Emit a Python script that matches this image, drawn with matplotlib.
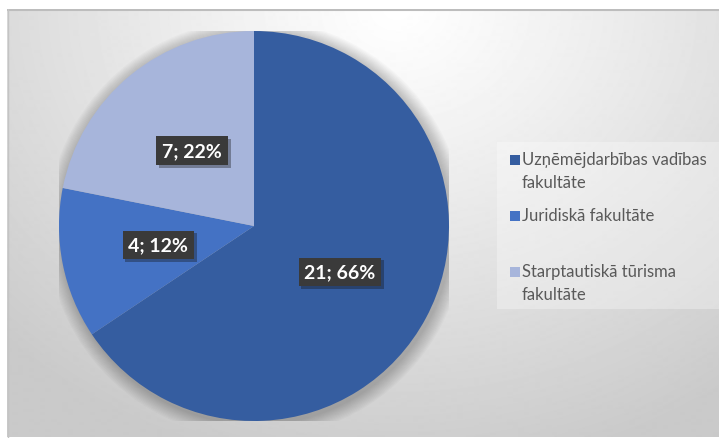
import numpy as np
import matplotlib.pyplot as plt
from matplotlib.patches import Rectangle, Circle
import matplotlib.patheffects as pe

plt.rcParams['font.family'] = ['Lato', 'DejaVu Sans']

# data
faculties = [['Uzņēmējdarbības vadības', 'fakultāte'], ['Juridiskā fakultāte'],
             ['Starptautiskā tūrisma', 'fakultāte']]
counts = [21, 4, 7]
percents = [66, 12, 22]
colors = ['#355DA0', '#4472C4', '#A7B5DB']

W, H = 719, 439
fig = plt.figure(figsize=(W / 100, H / 100), dpi=100)
fig.patch.set_facecolor('white')

# background panel with soft radial gradient
bg = fig.add_axes([7 / W, 0, (W - 7) / W, (H - 10) / H])
bg.set_axis_off()
yy, xx = np.mgrid[0:H - 10, 0:W - 7]
d = np.sqrt(((xx - 390) / 560.0) ** 2 + ((yy - 0) / 470.0) ** 2)
val = 1.0 - 0.21 * np.clip(d, 0, 1) ** 1.1
bg.imshow(val, cmap='gray', vmin=0, vmax=1, aspect='auto', interpolation='bilinear')
bg.set_xlim(0, W - 7)
bg.set_ylim(H - 10, 0)
bg.plot([0, W - 7], [0.5, 0.5], color='#bdbdbd', lw=1.5)
bg.plot([0.5, 0.5], [0, H - 10], color='#c4c4c4', lw=1.0)

# legend background box
bg.add_patch(Rectangle((497 - 7, 143 - 10), W - 497, 167, color='white', alpha=0.3, lw=0))

# pie axes
cx, cy, r = 254, 227, 195
ax = fig.add_axes([(cx - r) / W, (H - cy - r) / H, 2 * r / W, 2 * r / H])
ax.set_axis_off()

# soft shadow around the pie
for k in range(12):
    ax.add_patch(Circle((0.01, -0.015), 1.0 + 0.006 * (12 - k), color='black',
                        alpha=0.02, lw=0, zorder=0))

labels = [f'{c}; {p}%' for c, p in zip(counts, percents)]
wedges, texts = ax.pie(counts, colors=colors, startangle=90, counterclock=False,
                       radius=1.0, labels=labels, labeldistance=0.5,
                       wedgeprops=dict(linewidth=0),
                       textprops=dict(color='white', fontsize=14, fontweight='bold',
                                      ha='center', va='center'))
for w in wedges:
    w.set_zorder(2)
for t in texts:
    t.set_zorder(5)
    t.set_bbox(dict(boxstyle='square,pad=0.3', facecolor='#3A3A3A', edgecolor='none',
                    path_effects=[pe.SimplePatchShadow(offset=(2, -2), alpha=0.35), pe.Normal()]))
ax.set_xlim(-1, 1)
ax.set_ylim(-1, 1)

# legend
leg_y = [160, 216, 272]
for i, (lines, col) in enumerate(zip(faculties, colors)):
    y = leg_y[i]
    fig.patches.append(Rectangle((510 / W, (H - y - 5.5) / H), 10 / W, 10 / H,
                                 transform=fig.transFigure, color=col, lw=0))
    for j, line in enumerate(lines):
        fig.text(522 / W, (H - y - 23.5 * j) / H, line, fontsize=12, color='#595959',
                 va='center', ha='left')

fig.savefig('out.png', dpi=100)
